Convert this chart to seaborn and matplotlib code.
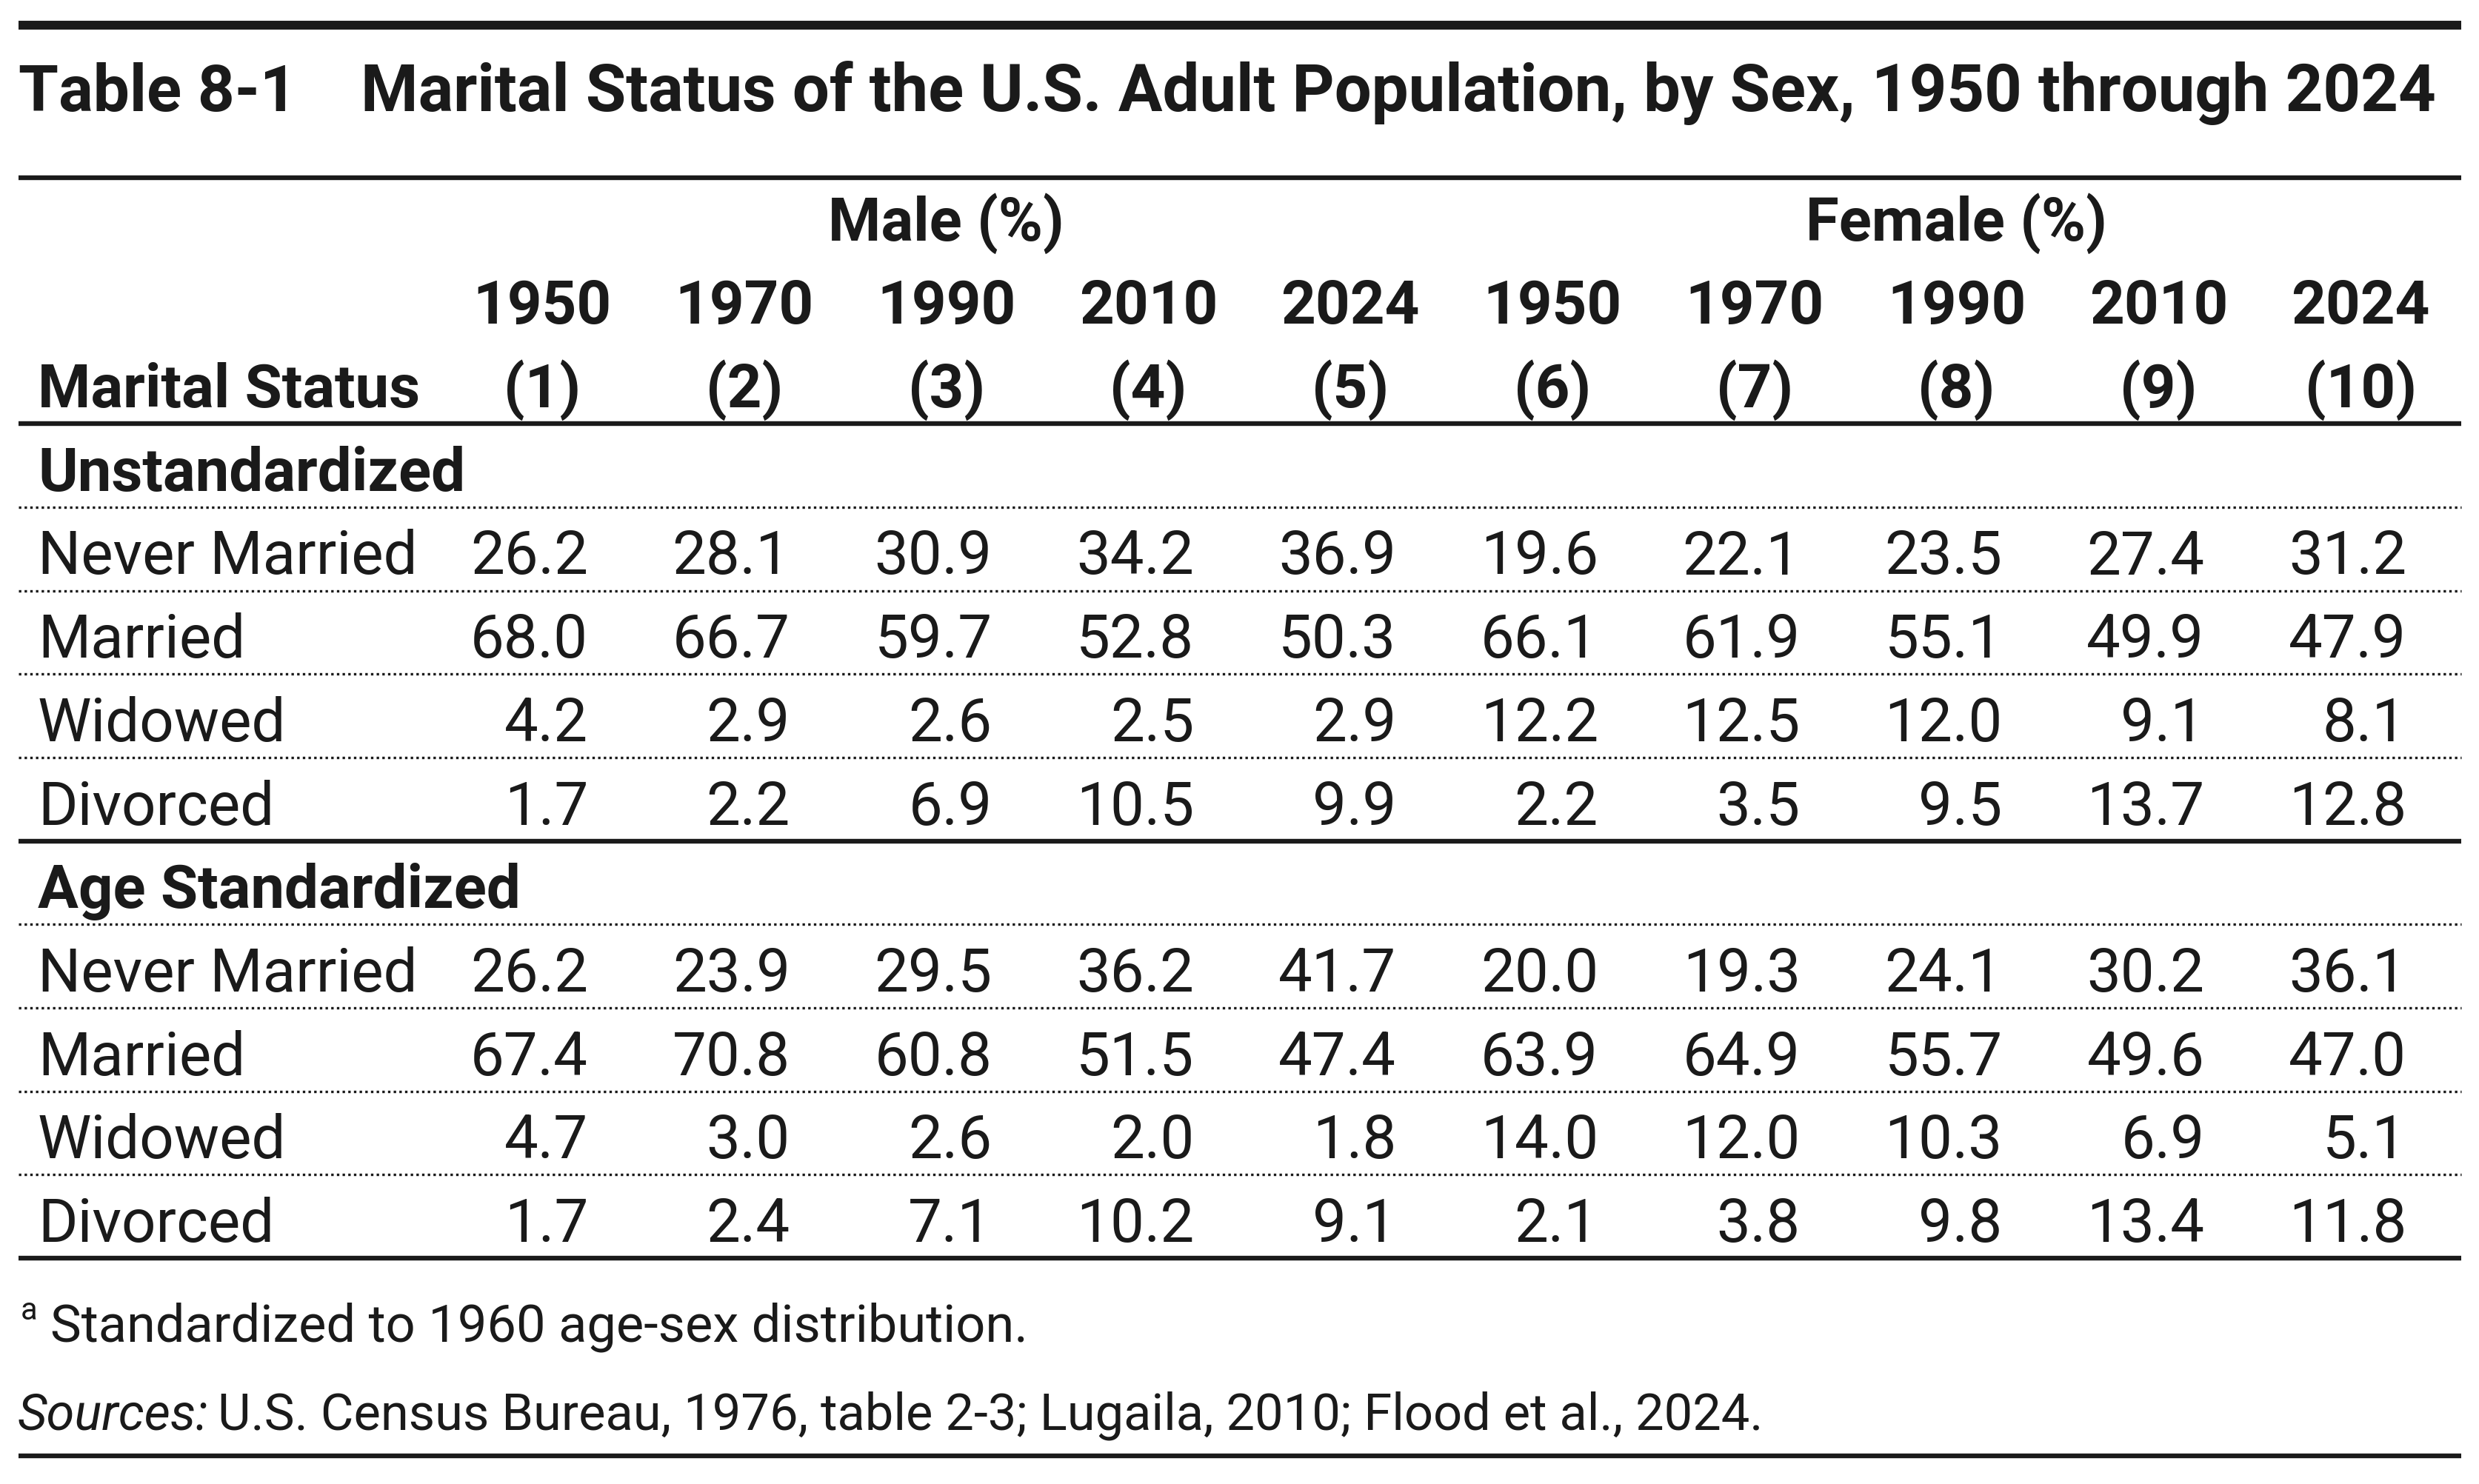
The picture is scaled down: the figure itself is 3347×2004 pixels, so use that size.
# Table 8-1: Marital status of the U.S. adult population, by sex, 1950-2024
# drawn as a "table" on top of a transparent seaborn heatmap

import numpy as np
import pandas as pd
import matplotlib
matplotlib.use("Agg")
import matplotlib.pyplot as plt
from matplotlib.colors import ListedColormap
import seaborn as sns

# ----------------------------------------------------------
# DATA
# ----------------------------------------------------------
years = [1950, 1970, 1990, 2010, 2024]
statuses = ["Never Married", "Married", "Widowed", "Divorced"]
sections = ["Unstandardized", "Age Standardized"]

# rows = statuses, columns = years
male_unstd = [
    [26.2, 28.1, 30.9, 34.2, 36.9],
    [68.0, 66.7, 59.7, 52.8, 50.3],
    [4.2, 2.9, 2.6, 2.5, 2.9],
    [1.7, 2.2, 6.9, 10.5, 9.9],
]
female_unstd = [
    [19.6, 22.1, 23.5, 27.4, 31.2],
    [66.1, 61.9, 55.1, 49.9, 47.9],
    [12.2, 12.5, 12.0, 9.1, 8.1],
    [2.2, 3.5, 9.5, 13.7, 12.8],
]
male_agestd = [
    [26.2, 23.9, 29.5, 36.2, 41.7],
    [67.4, 70.8, 60.8, 51.5, 47.4],
    [4.7, 3.0, 2.6, 2.0, 1.8],
    [1.7, 2.4, 7.1, 10.2, 9.1],
]
female_agestd = [
    [20.0, 19.3, 24.1, 30.2, 36.1],
    [63.9, 64.9, 55.7, 49.6, 47.0],
    [14.0, 12.0, 10.3, 6.9, 5.1],
    [2.1, 3.8, 9.8, 13.4, 11.8],
]

title_num = "Table 8-1"
title_text = "Marital Status of the U.S. Adult Population, by Sex, 1950 through 2024"
footnote = "Standardized to 1960 age-sex distribution."
sources_lead = "Sources:"
sources_text = "U.S. Census Bureau, 1976, table 2-3; Lugaila, 2010; Flood et al., 2024."

# ----------------------------------------------------------
# BUILD MATRIX (header rows are NaN -> masked by heatmap)
# ----------------------------------------------------------
blank = [np.nan] * 10
rows = [blank]
for k in range(4):
    rows.append(male_unstd[k] + female_unstd[k])
rows.append(blank)
for k in range(4):
    rows.append(male_agestd[k] + female_agestd[k])

col_names = [f"M{y}" for y in years] + [f"F{y}" for y in years]
df = pd.DataFrame(rows, columns=col_names)

# ----------------------------------------------------------
# LAYOUT (pixels of the 3347 x 2004 output)
# ----------------------------------------------------------
W, H, DPI = 3347, 2004, 200
COL0_RIGHT = 794.0     # right edge of first number column
COL_PITCH = 272.8
ROW0_BASE = 662.8      # baseline of first body row ("Unstandardized")
ROW_PITCH = 112.7
RULE_L, RULE_R = 25, 3323


def xd(px):
    return (px - COL0_RIGHT) / COL_PITCH + 0.5


def yd(py):
    return (py - ROW0_BASE) / ROW_PITCH + 0.5


INK = "#1a1a1a"
BODY = 29.4
TITLE = 31.4
NOTE = 24.0

sns.set_theme(style="white")
plt.rcParams["font.family"] = ["Roboto", "DejaVu Sans"]

fig = plt.figure(figsize=(W / DPI, H / DPI), dpi=DPI)
ax = fig.add_axes([0, 0, 1, 1])

sns.heatmap(
    df,
    ax=ax,
    annot=True,
    fmt=".1f",
    cmap=ListedColormap([(1, 1, 1, 0)]),
    cbar=False,
    xticklabels=False,
    yticklabels=False,
    annot_kws=dict(ha="right", va="baseline", fontsize=BODY, color=INK),
)

ax.set_xlim(xd(0), xd(W))
ax.set_ylim(yd(H), yd(0))
ax.axis("off")

renderer = fig.canvas.get_renderer()


def fit(t, width_px):
    # scale the font so the text spans the reference width
    w = t.get_window_extent(renderer).width
    t.set_fontsize(t.get_fontsize() * width_px / w)


# ----------------------------------------------------------
# TITLE
# ----------------------------------------------------------
ax.text(xd(25), yd(150), title_num, ha="left", va="baseline",
        fontsize=TITLE, weight="bold", color=INK)
t = ax.text(xd(487), yd(150), title_text, ha="left", va="baseline",
            fontsize=TITLE, weight="bold", color=INK)
fit(t, 3289 - 487)

# ----------------------------------------------------------
# COLUMN HEADERS
# ----------------------------------------------------------
off = 62 / COL_PITCH
ax.text(2.5 - off, -2.5, "Male (%)", ha="center", va="baseline",
        fontsize=BODY, weight="bold", color=INK)
ax.text(7.5 - off, -2.5, "Female (%)", ha="center", va="baseline",
        fontsize=BODY, weight="bold", color=INK)

for i, yr in enumerate(years + years):
    ax.text(i + 0.5 - off, -1.5, str(yr), ha="center", va="baseline",
            fontsize=BODY, weight="bold", color=INK)
    ax.text(i + 0.5 - off, -0.5, f"({i + 1})", ha="center", va="baseline",
            fontsize=BODY, weight="bold", color=INK)

ax.text(xd(51), -0.5, "Marital Status", ha="left", va="baseline",
        fontsize=BODY, weight="bold", color=INK)

# ----------------------------------------------------------
# ROW LABELS
# ----------------------------------------------------------
for s, sec in enumerate(sections):
    j0 = s * 5
    ax.text(xd(51), j0 + 0.5, sec, ha="left", va="baseline",
            fontsize=BODY, weight="bold", color=INK)
    for k, st in enumerate(statuses):
        ax.text(xd(51), j0 + k + 1.5, st, ha="left", va="baseline",
                fontsize=BODY, color=INK)

# ----------------------------------------------------------
# RULES
# ----------------------------------------------------------
gap = 22 / ROW_PITCH
x0, x1 = xd(RULE_L), xd(RULE_R)

ax.hlines(yd(34), x0, x1, color=INK, lw=4.3)
ax.hlines(yd(240), x0, x1, color=INK, lw=2.3)
ax.hlines(-1 + 0.5 + gap, x0, x1, color=INK, lw=2.3)
ax.hlines([4 + 0.5 + gap, 9 + 0.5 + gap], x0, x1, color=INK, lw=2.3)

dotted = [j + 0.5 + gap for j in [0, 1, 2, 3, 5, 6, 7, 8]]
ax.hlines(dotted, x0, x1, color=INK, lw=1.2, linestyles=[(0, (1, 1.3))])

ax.hlines(yd(1966), x0, x1, color=INK, lw=2.3)

# ----------------------------------------------------------
# NOTES
# ----------------------------------------------------------
ax.text(xd(28), yd(1782), "a", ha="left", va="baseline",
        fontsize=15, color=INK)
t = ax.text(xd(68), yd(1812), footnote, ha="left", va="baseline",
            fontsize=NOTE, color=INK)
fit(t, 1387 - 68)

s1 = ax.text(xd(24), yd(1930), sources_lead, ha="left", va="baseline",
             fontsize=NOTE, style="italic", color=INK)
s2 = ax.text(xd(24), yd(1930), sources_text, ha="left", va="baseline",
             fontsize=NOTE, color=INK)
# shrink/grow both parts together so the line ends where the reference does
w_all = s1.get_window_extent(renderer).width + 12 + s2.get_window_extent(renderer).width
scale = (2380 - 24) / w_all
s1.set_fontsize(NOTE * scale)
s2.set_fontsize(NOTE * scale)
bb = s1.get_window_extent(renderer)
s2.set_x(xd(bb.x1 + 12 * scale))

fig.savefig("out.png", dpi=DPI)
